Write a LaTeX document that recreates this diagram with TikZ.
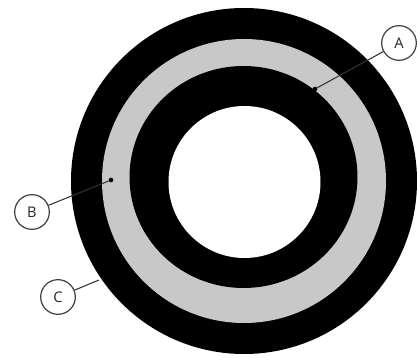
\documentclass[tikz,border=0pt]{standalone}
\usepackage{fontspec}
\setmainfont{Open Sans}
\definecolor{ringgray}{RGB}{200,200,200}
\begin{document}
\begin{tikzpicture}[x=0.75pt,y=-0.75pt,
  lbl/.style={circle,draw=black!75,line width=0.9pt,minimum size=26pt,inner sep=0pt,
    font=\fontsize{11}{11}\selectfont,text=black!85},
  leader/.style={draw=black!80,line width=0.8pt},
  dotmark/.style={circle,fill=black,inner sep=0pt,minimum size=3.5pt}]
\useasboundingbox (0,0) rectangle (417,363);
\fill[white] (0,0) rectangle (417,363);
% rings
\fill[black] (244,181) circle[radius=173];
\fill[ringgray] (244,181) circle[radius=142];
\fill[black] (243.5,177) ellipse[x radius=114,y radius=111];
\fill[white] (244.5,182) circle[radius=76];
% labels
\node[lbl] (A) at (399,43) {A};
\node[lbl] (B) at (32,212) {B};
\node[lbl] (C) at (58,297) {C};
\node[dotmark] (a) at (315,89) {};
\node[dotmark] (b) at (111,180) {};
\coordinate (c) at (99,280);
\draw[leader] (A) -- (a);
\draw[leader] (B) -- (b);
\draw[leader] (C) -- (c);
\end{tikzpicture}
\end{document}
